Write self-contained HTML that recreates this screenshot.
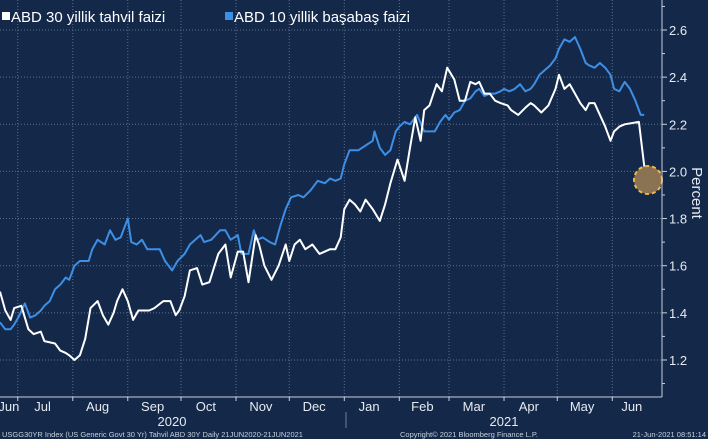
<!DOCTYPE html>
<html><head><meta charset="utf-8"><style>
html,body{margin:0;padding:0;background:#14294a;}
svg{display:block;font-family:"Liberation Sans",sans-serif;}
</style></head><body>
<svg id="chart" width="708" height="439" viewBox="0 0 708 439" xmlns="http://www.w3.org/2000/svg">
<rect x="0" y="0" width="708" height="439" fill="#14294a"/>
<g id="grid"></g>
<g id="series"></g>
<circle cx="648" cy="180" r="14" fill="#8a7352" stroke="#f2b446" stroke-width="2" stroke-dasharray="4,3"/>
<line x1="662" y1="0" x2="662" y2="397" stroke="#c8d0dc" stroke-width="1"/>
<line x1="0" y1="397" x2="662" y2="397" stroke="#c8d0dc" stroke-width="1"/>
<g id="yaxis"></g>
<g id="xaxis"></g>
<text transform="translate(692,193) rotate(90)" text-anchor="middle" fill="#e6eaf0" font-size="15">Percent</text>
<g>
<rect x="2" y="12" width="8" height="8" fill="#ffffff"/>
<text x="11" y="22" fill="#ffffff" font-size="15">ABD 30 yillik tahvil faizi</text>
<rect x="225" y="12" width="8" height="8" fill="#3d8fe6"/>
<text x="234" y="22" fill="#ffffff" font-size="15">ABD 10 yillik başabaş faizi</text>
</g>
<line x1="346" y1="412" x2="346" y2="428" stroke="#6f7f99" stroke-width="1"/>
<text x="172" y="426" fill="#e6eaf0" font-size="13" text-anchor="middle">2020</text>
<text x="504" y="426" fill="#e6eaf0" font-size="13" text-anchor="middle">2021</text>
<text x="2" y="437" fill="#c8d0dc" font-size="7.5">USGG30YR Index (US Generic Govt 30 Yr) Tahvil ABD 30Y  Daily 21JUN2020-21JUN2021</text>
<text x="400" y="437" fill="#c8d0dc" font-size="7.5">Copyright© 2021 Bloomberg Finance L.P.</text>
<text x="706" y="437" fill="#c8d0dc" font-size="7.5" text-anchor="end">21-Jun-2021 08:51:14</text>
</svg>
<script>
const whiteDays=[0,3,6,8,12,16,19,23,25,31,34,37,39,42,45,48,51,55,58,61,64,66,69,72,75,78,82,84,87,92,96,99,101,104,107,111,114,118,123,127,130,134,137,140,144,146,149,153,157,161,163,166,169,172,176,180,186,189,192,194,197,200,203,206,210,214,217,220,224,228,231,234,237,239,242,246,249,252,256,259,262,265,268,270,273,276,279,282,286,288,292,296,299,301,305,309,313,315,318,321,324,327,330,332,335,338,341,344,346,349,352,360,364];
const whiteValues=[1.49,1.41,1.37,1.42,1.43,1.33,1.31,1.32,1.28,1.27,1.24,1.23,1.22,1.20,1.22,1.29,1.42,1.45,1.39,1.35,1.40,1.45,1.50,1.45,1.37,1.41,1.41,1.41,1.42,1.45,1.45,1.39,1.41,1.47,1.58,1.59,1.52,1.53,1.65,1.69,1.55,1.66,1.66,1.53,1.73,1.69,1.60,1.54,1.60,1.69,1.62,1.69,1.71,1.67,1.69,1.65,1.67,1.67,1.72,1.84,1.88,1.86,1.83,1.88,1.84,1.79,1.86,1.95,2.05,1.96,2.10,2.23,2.13,2.26,2.28,2.37,2.34,2.44,2.39,2.30,2.30,2.38,2.37,2.38,2.33,2.33,2.30,2.29,2.28,2.26,2.24,2.27,2.29,2.28,2.25,2.28,2.35,2.41,2.35,2.37,2.33,2.29,2.26,2.29,2.29,2.24,2.19,2.13,2.17,2.19,2.20,2.21,1.96];
const blueDays=[0,3,6,8,11,14,17,20,23,25,28,31,34,37,39,42,45,50,52,55,59,62,65,68,72,74,77,80,83,87,90,93,97,100,104,107,110,113,115,119,124,127,130,134,136,140,143,145,148,152,155,158,161,164,168,171,175,179,183,186,189,192,194,197,202,206,210,211,214,217,220,223,225,228,231,235,239,242,245,248,251,253,256,259,262,265,268,270,273,276,279,282,284,287,290,293,296,299,301,304,307,310,313,315,318,321,324,327,330,332,335,338,341,344,346,349,352,355,358,361,363];
const blueValues=[1.36,1.33,1.33,1.35,1.39,1.44,1.38,1.39,1.41,1.43,1.45,1.50,1.52,1.55,1.54,1.60,1.62,1.62,1.67,1.71,1.69,1.75,1.71,1.72,1.80,1.70,1.69,1.71,1.67,1.67,1.67,1.62,1.58,1.62,1.65,1.69,1.71,1.73,1.70,1.71,1.75,1.75,1.71,1.73,1.65,1.65,1.75,1.71,1.72,1.70,1.69,1.77,1.84,1.89,1.90,1.89,1.92,1.96,1.95,1.97,1.96,1.97,2.03,2.09,2.09,2.11,2.13,2.17,2.10,2.07,2.09,2.17,2.19,2.21,2.20,2.24,2.17,2.17,2.17,2.21,2.24,2.22,2.25,2.26,2.30,2.31,2.34,2.35,2.32,2.33,2.33,2.34,2.35,2.34,2.35,2.37,2.34,2.35,2.37,2.41,2.43,2.45,2.48,2.52,2.56,2.55,2.57,2.52,2.46,2.45,2.44,2.46,2.44,2.41,2.35,2.34,2.38,2.35,2.30,2.24,2.24];
const yTicks=[1.2,1.4,1.6,1.8,2.0,2.2,2.4,2.6];
const yMinorTicks=[1.1,1.3,1.5,1.7,1.9,2.1,2.3,2.5,2.7];
const monthLabels=["Jun","Jul","Aug","Sep","Oct","Nov","Dec","Jan","Feb","Mar","Apr","May","Jun"];
const monthMidDays=[5,24,55,86,116,147,177,208,238,267,298,328,356];
const monthStartDays=[10,41,72,102,133,163,194,225,253,284,314,345];

const NS="http://www.w3.org/2000/svg";
function x(d){return d*646/364;}
function y(v){return 30+(2.6-v)*235.7;}
function mk(tag,attrs,parent){const e=document.createElementNS(NS,tag);for(const k in attrs)e.setAttribute(k,attrs[k]);parent.appendChild(e);return e;}
const grid=document.getElementById('grid'),ser=document.getElementById('series'),ya=document.getElementById('yaxis'),xa=document.getElementById('xaxis');
yTicks.forEach(v=>{
  const l=mk('line',{x1:0,x2:662,y1:y(v),y2:y(v),stroke:'#5d6f8c','stroke-width':1,'stroke-dasharray':'1,2'},grid);
  
  
  const t=mk('line',{x1:662,x2:667,y1:y(v),y2:y(v),stroke:'#c8d0dc'},ya);
  
  
  const tx=mk('text',{x:669,y:y(v)+5,fill:'#e6eaf0','font-size':13},ya);
  tx.textContent=v.toFixed(1);
  
  
});
yMinorTicks.forEach(v=>{
  const t=mk('line',{x1:662,x2:665,y1:y(v),y2:y(v),stroke:'#c8d0dc'},ya);
  
  
});
monthStartDays.forEach(d=>{
  const l=mk('line',{x1:x(d),x2:x(d),y1:0,y2:397,stroke:'#5d6f8c','stroke-width':1,'stroke-dasharray':'1,2'},grid);
  
  
  const t=mk('line',{x1:x(d),x2:x(d),y1:397,y2:401,stroke:'#c8d0dc'},xa);
  
  
});
monthLabels.forEach((m,i)=>{
  const t=mk('text',{x:x(monthMidDays[i]),y:411,fill:'#e6eaf0','font-size':13,'text-anchor':'middle'},xa);
  t.textContent=m;
  
  
});
function line(days,vals,color,name){
  const n=Math.min(days.length,vals.length);let d='';
  for(let i=0;i<n;i++)d+=(i?'L':'M')+x(days[i]).toFixed(1)+','+y(vals[i]).toFixed(1);
  const p=mk('path',{d:d,fill:'none',stroke:color,'stroke-width':2,'stroke-linejoin':'round'},ser);
  
  
}
line(blueDays,blueValues,'#3d8fe6','breakeven-10y-line');
line(whiteDays,whiteValues,'#ffffff','yield-30y-line');
</script>
</body></html>
